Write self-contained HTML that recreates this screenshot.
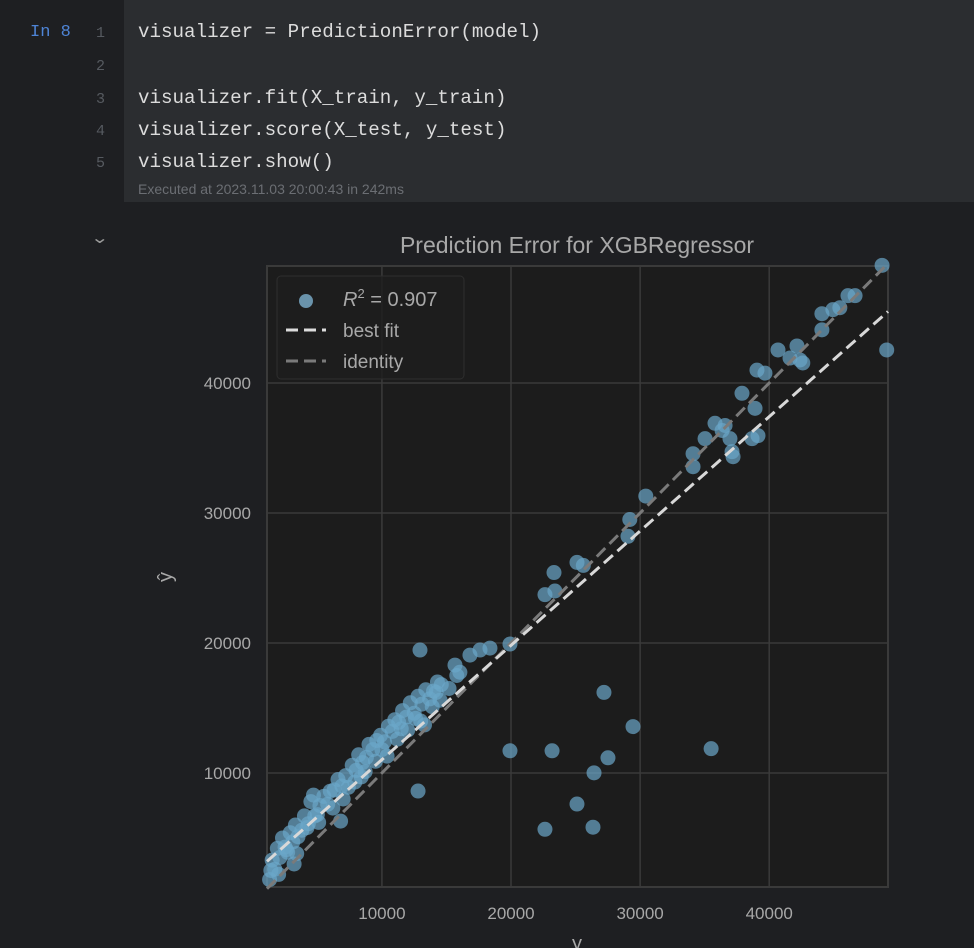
<!DOCTYPE html>
<html><head><meta charset="utf-8">
<style>
body{margin:0;width:974px;height:948px;background:#1e1f22;overflow:hidden;position:relative;font-family:"Liberation Sans",sans-serif}
.cell{position:absolute;left:124px;top:0;width:850px;height:202px;background:#2b2d30}
.code{position:absolute;left:138px;font-family:"Liberation Mono",monospace;font-size:19.2px;color:#dcdcdc;white-space:pre}
.ln{position:absolute;left:96px;font-family:"Liberation Mono",monospace;font-size:15px;color:#565a60}
</style></head><body>
<div class="cell"></div>
<div style="position:absolute;left:30px;top:23px;color:#4e84d6;font-family:'Liberation Mono',monospace;font-size:17px">In 8</div>
<div class="ln" style="top:25px">1</div>
<div class="ln" style="top:58px">2</div>
<div class="ln" style="top:91px">3</div>
<div class="ln" style="top:123px">4</div>
<div class="ln" style="top:155px">5</div>
<div class="code" style="top:21px">visualizer = PredictionError(model)</div>
<div class="code" style="top:87px">visualizer.fit(X_train, y_train)</div>
<div class="code" style="top:119px">visualizer.score(X_test, y_test)</div>
<div class="code" style="top:151px">visualizer.show()</div>
<div style="position:absolute;left:138px;top:181px;font-size:14px;color:#6b6e73">Executed at 2023.11.03 20:00:43 in 242ms</div>
<div style="position:absolute;left:93px;top:228px;font-size:16px;color:#9a9a9a;transform:scaleX(1.4)">⌄</div>
<svg id="chart" width="974" height="948" style="position:absolute;left:0;top:0"></svg>
<script>
const xTicks=[10000,20000,30000,40000];
const yTicks=[10000,20000,30000,40000];
const actual=[12950,12800,19920,23180,22630,25110,26350,26430,27200,27510,29450,35500,49100,
22630,23330,25110,25600,23400,29060,29200,30440,19920,18370,17600,16820,16040,15660,
34100,34100,35030,35800,36350,36960,37200,37890,38670,38900,39130,39050,39670,40680,41610,42150,42380,42600,44080,44080,44930,45470,46100,46650,48740,36580,37120,
1300,1500,1700,1900,2100,2300,2500,2700,2900,3100,3300,3500,3800,4000,4300,4500,4700,5000,5200,5500,5800,6000,6300,6600,6900,7200,7400,7700,8000,8200,8500,8800,9000,9300,9600,9900,10200,10500,10800,11000,11300,11600,11900,12200,12500,12800,13100,13400,13700,14000,14300,14600,1400,2000,2600,3400,4200,5100,6200,7000,7900,8700,9500,10400,11200,12000,12600,13300,13900,14500,15200,15800,3200,4800,6800,8400,10000,11500,13000,14200];
const predicted=[19460,8610,11710,11710,5670,7610,5830,10010,16200,11170,13570,11870,42540,
23720,25420,26200,25970,24000,28210,29500,31300,19920,19610,19460,19070,17750,18300,
34560,33560,35720,36900,36350,35720,34330,39210,35720,38050,35950,40990,40760,42540,41920,42850,41770,41540,44090,45330,45640,45790,46720,46720,49050,36730,34720,
1800,3300,2600,4200,3500,5000,4300,3900,5400,4700,6000,5100,5600,6700,6100,7800,8300,6800,7500,8200,7600,8600,8700,9500,9000,9800,8900,10600,10200,11400,10800,11200,12200,11800,12500,12900,12400,13600,13200,14100,13900,14800,14300,15400,14600,15900,15300,16400,15700,16300,17000,16800,2500,2200,4100,3800,5800,6200,7300,8000,9300,10100,10900,11300,12600,13300,14200,13700,15100,15600,16500,17500,3000,6700,6300,9700,11800,13400,14000,16200];
const bestFit=[[1100,3200],[49200,45500]];
const identity=[[1100,1100],[49200,49200]];
const NS="http://www.w3.org/2000/svg";
const svg=document.getElementById('chart');
const L=267,R=888,T=266,B=887,X0=1100,X1=49200,Y0=1230,Y1=49000;
const sx=v=>L+(v-X0)*(R-L)/(X1-X0);
const sy=v=>B-(v-Y0)*(B-T)/(Y1-Y0);
function mk(tag,attrs){const e=document.createElementNS(NS,tag);for(const k in attrs)e.setAttribute(k,attrs[k]);svg.appendChild(e);return e;}
let e=mk('rect',{x:L,y:T,width:R-L,height:B-T,fill:'#1c1c1c',stroke:'#3a3a3a','stroke-width':2});


xTicks.forEach(t=>{
 let g=mk('line',{x1:sx(t),x2:sx(t),y1:T,y2:B,stroke:'#3a3a3a','stroke-width':1.5});
 
 
 let tx=mk('text',{x:sx(t),y:B+32,fill:'#a8a8a8','font-size':17,'text-anchor':'middle','font-family':'Liberation Sans'});
 tx.textContent=t;
 
 
});
yTicks.forEach(t=>{
 let g=mk('line',{x1:L,x2:R,y1:sy(t),y2:sy(t),stroke:'#3a3a3a','stroke-width':1.5});
 
 
 let tx=mk('text',{x:251,y:sy(t)+6,fill:'#a8a8a8','font-size':17,'text-anchor':'end','font-family':'Liberation Sans'});
 tx.textContent=t;
 
 
});
for(let i=0;i<actual.length;i++){
 let c=mk('circle',{cx:sx(actual[i]),cy:sy(predicted[i]),r:7.5,fill:'#6ba6c9','fill-opacity':0.7});
 
 
}
let id=mk('line',{x1:sx(identity[0][0]),y1:sy(identity[0][1]),x2:sx(identity[1][0]),y2:sy(identity[1][1]),stroke:'#7a7a7a','stroke-width':3,'stroke-dasharray':'12,6'});


let bf=mk('line',{x1:sx(bestFit[0][0]),y1:sy(bestFit[0][1]),x2:sx(bestFit[1][0]),y2:sy(bestFit[1][1]),stroke:'#d8d8d8','stroke-width':3,'stroke-dasharray':'12,6'});


let lg=mk('rect',{x:277,y:276,width:187,height:103,rx:4,fill:'#1e1e1e','fill-opacity':0.8,stroke:'#2e2e2e'});


let lc=mk('circle',{cx:306,cy:301,r:7,fill:'#6a93ab'});


let lt=mk('text',{x:343,y:306,fill:'#a8a8a8','font-size':20,'font-family':'Liberation Sans'});
lt.innerHTML='<tspan font-style="italic">R</tspan><tspan dy="-8" font-size="13">2</tspan><tspan dy="8">  = 0.907</tspan>';


let l1=mk('line',{x1:286,x2:326,y1:330,y2:330,stroke:'#dcdcdc','stroke-width':3,'stroke-dasharray':'12,6'});


let t1=mk('text',{x:343,y:337,fill:'#a8a8a8','font-size':19,'font-family':'Liberation Sans'});t1.textContent='best fit';


let l2=mk('line',{x1:286,x2:326,y1:361,y2:361,stroke:'#7a7a7a','stroke-width':3,'stroke-dasharray':'12,6'});


let t2=mk('text',{x:343,y:368,fill:'#a8a8a8','font-size':19,'font-family':'Liberation Sans'});t2.textContent='identity';


let ti=mk('text',{x:577,y:253,fill:'#a8a8a8','font-size':23,'text-anchor':'middle','font-family':'Liberation Sans'});ti.textContent='Prediction Error for XGBRegressor';


let yl=mk('text',{x:0,y:0,fill:'#a8a8a8','font-size':20,'text-anchor':'middle','font-family':'Liberation Sans',transform:'translate(172,577) rotate(-90)'});yl.textContent='ŷ';


let xl=mk('text',{x:577,y:950,fill:'#a8a8a8','font-size':20,'text-anchor':'middle','font-family':'Liberation Sans'});xl.textContent='y';


</script>
</body></html>
